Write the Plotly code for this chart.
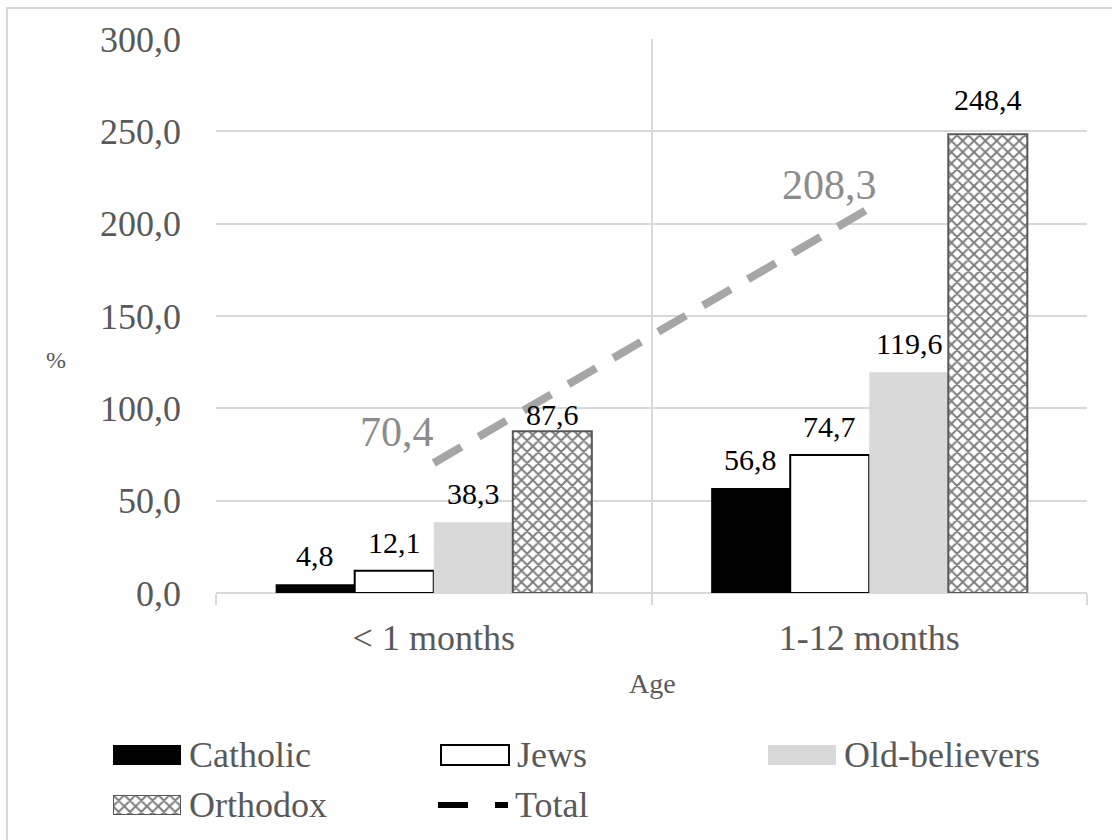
import plotly.graph_objects as go

# Infant mortality by confession and age group
categories = ["&lt; 1 months", "1-12 months"]
catholic = [4.8, 56.8]
jews = [12.1, 74.7]
old_believers = [38.3, 119.6]
orthodox = [87.6, 248.4]
total = [70.4, 208.3]
y_ticks = [0, 50, 100, 150, 200, 250, 300]

W, H = 1112, 840
FONT = "Liberation Serif"
GRID = "#d9d9d9"
TICK_GREY = "#595959"

# plot area in pixels
PLOT_L, PLOT_R, PLOT_T, PLOT_B = 216, 1087, 39, 593
BARGAP = 0.274


def px(x):
    return x / W


def py(y):
    return 1 - y / H


def fmt(v):
    return f"{v:.1f}".replace(".", ",")


fig = go.Figure()

orthodox_marker = dict(
    color="white",
    line=dict(color="#595959", width=2),
    pattern=dict(shape="x", fgcolor="black", bgcolor="white", size=8, solidity=0.45),
)

series = [
    ("Catholic", catholic, dict(color="black", line=dict(width=0))),
    ("Jews", jews, dict(color="white", line=dict(color="black", width=2))),
    ("Old-believers", old_believers, dict(color="#d9d9d9", line=dict(width=0))),
    ("Orthodox", orthodox, orthodox_marker),
]
for name, vals, marker in series:
    fig.add_trace(go.Bar(name=name, x=categories, y=vals, marker=marker, cliponaxis=False))

fig.add_trace(go.Scatter(
    name="Total", x=categories, y=total, mode="lines",
    line=dict(color="#a6a6a6", width=8, dash="32px,20px"),
    cliponaxis=False,
))

# Value labels above each bar (annotations, shifted to the bar's slot in the group)
cat_px = (PLOT_R - PLOT_L) / len(categories)
bar_px = cat_px * (1 - BARGAP) / len(series)
label_lift = {("Orthodox", 0): 6, ("Orthodox", 1): 24}
for i, (name, vals, _) in enumerate(series):
    dx = (i - (len(series) - 1) / 2) * bar_px
    for j, (cat, val) in enumerate(zip(categories, vals)):
        lift = label_lift.get((name, j), 18)
        fig.add_annotation(
            x=cat, y=val, xref="x", yref="y", text=fmt(val), showarrow=False,
            xanchor="center", yanchor="bottom", xshift=dx, yshift=lift - 8,
            font=dict(family=FONT, size=30, color="black"),
        )

# Value labels for the total line
total_label_shift = [(2, 6), (10, -2)]
for cat, val, (dx, dy) in zip(categories, total, total_label_shift):
    fig.add_annotation(
        x=cat, y=val, xref="x", yref="y", text=fmt(val),
        showarrow=False, xanchor="right", yanchor="bottom", xshift=dx, yshift=dy,
        font=dict(family=FONT, size=42, color="#8c8c8c"),
    )

# Patterned swatch for the Orthodox legend entry, drawn on its own small axes
fig.add_trace(go.Bar(
    x=[0], y=[1], width=[1], marker=orthodox_marker, xaxis="x2", yaxis="y2",
    showlegend=False, hoverinfo="skip",
))

fig.update_layout(
    width=W, height=H,
    margin=dict(l=0, r=0, t=0, b=0, autoexpand=False),
    paper_bgcolor="white", plot_bgcolor="white",
    separators=", ",
    barmode="group", bargap=BARGAP, bargroupgap=0,
    showlegend=False,
    font=dict(family=FONT, color=TICK_GREY),
    xaxis=dict(
        domain=[px(PLOT_L), px(PLOT_R)], range=[-0.5, 1.5], automargin=False,
        tickson="boundaries", ticks="outside", ticklen=11, tickwidth=2, tickcolor=GRID,
        showgrid=True, gridcolor=GRID, gridwidth=2,
        showline=False, zeroline=False, ticklabelstandoff=20,
        tickfont=dict(family=FONT, size=36, color=TICK_GREY),
    ),
    yaxis=dict(
        domain=[py(PLOT_B), py(PLOT_T)], range=[0, 300], automargin=False,
        tickvals=y_ticks, tickformat=".1f",
        showgrid=True, gridcolor=GRID, gridwidth=2,
        zeroline=True, zerolinecolor=GRID, zerolinewidth=2,
        ticks="", ticklabelstandoff=34,
        tickfont=dict(family=FONT, size=36, color=TICK_GREY),
    ),
    xaxis2=dict(domain=[px(113), px(181)], range=[-0.5, 0.5], visible=False, anchor="y2"),
    yaxis2=dict(domain=[py(815), py(795)], range=[0, 1], visible=False, anchor="x2"),
)

# Axis titles
fig.add_annotation(
    x=px(56), y=py(360), xref="paper", yref="paper", text="%", showarrow=False,
    xanchor="center", yanchor="middle",
    font=dict(family=FONT, size=24, color=TICK_GREY),
)
fig.add_annotation(
    x=px(652), y=py(683), xref="paper", yref="paper", text="Age", showarrow=False,
    xanchor="center", yanchor="middle",
    font=dict(family=FONT, size=28, color=TICK_GREY),
)

# Outer chart border
fig.add_shape(type="rect", xref="paper", yref="paper",
              x0=px(7), y0=-0.05, x1=1.05, y1=py(8),
              line=dict(color=GRID, width=2), fillcolor="rgba(0,0,0,0)", layer="below")

# Legend
legend_font = dict(family=FONT, size=36, color=TICK_GREY)
row1_y, row2_y = 755, 805
sw_h = 20
swatches = [
    ("Catholic", 113, row1_y, dict(fillcolor="black", line=dict(width=0))),
    ("Jews", 441, row1_y, dict(fillcolor="white", line=dict(color="black", width=2))),
    ("Old-believers", 768, row1_y, dict(fillcolor="#d9d9d9", line=dict(width=0))),
]
for label, x0, yc, style in swatches:
    fig.add_shape(type="rect", xref="paper", yref="paper",
                  x0=px(x0), x1=px(x0 + 68), y0=py(yc + sw_h / 2), y1=py(yc - sw_h / 2),
                  **style)
    fig.add_annotation(x=px(x0 + 74), y=py(yc), xref="paper", yref="paper", text=label,
                       showarrow=False, xanchor="left", yanchor="middle", font=legend_font)

fig.add_annotation(x=px(113 + 74), y=py(row2_y), xref="paper", yref="paper", text="Orthodox",
                   showarrow=False, xanchor="left", yanchor="middle", font=legend_font)

fig.add_shape(type="line", xref="paper", yref="paper",
              x0=px(438), x1=px(508), y0=py(row2_y), y1=py(row2_y),
              line=dict(color="black", width=6, dash="30px,27px"))
fig.add_annotation(x=px(441 + 72), y=py(row2_y), xref="paper", yref="paper", text="Total",
                   showarrow=False, xanchor="left", yanchor="middle", font=legend_font)

fig.write_html("out.html")
